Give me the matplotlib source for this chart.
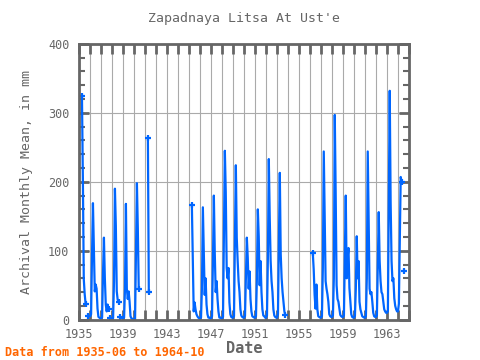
import numpy as np
import matplotlib.pyplot as plt
from matplotlib.ticker import MultipleLocator

nan = np.nan

# monthly values (Jan..Dec), nan = no data
years = list(range(1935, 1965))
monthly = {
    1935: [nan, nan, nan, nan, nan, 325, 205, 59, 37, 23, nan, nan],
    1936: [6, 5, 5, 8, 95, 169, 104, 41, 51, 45, 16, 4],
    1937: [3, 2, 2, 3, 68, 119, 60, 22, 12, 22, 16, nan],
    1938: [3, 2, 2, 2, 56, 190, 136, 41, 29, 26, nan, 4],
    1939: [3, 2, 2, 3, 45, 168, 45, 30, 41, 26, 5, 2],
    1940: [1, 1, 1, 1, 97, 198, 132, 45, nan, nan, nan, nan],
    1941: [nan, nan, nan, nan, nan, 263, 40, nan, nan, nan, nan, nan],
    1942: [nan] * 12,
    1943: [nan] * 12,
    1944: [nan] * 12,
    1945: [nan, nan, nan, nan, nan, 166, 92, 12, 25, 15, 8, 5],
    1946: [3, 2, 2, 3, 46, 163, 100, 36, 60, 22, 8, 3],
    1947: [3, 2, 2, 5, 85, 180, 97, 40, 56, 30, 12, 3],
    1948: [3, 2, 2, 4, 120, 245, 185, 75, 60, 75, 25, 8],
    1949: [4, 3, 3, 5, 119, 224, 119, 85, 56, 40, 15, 6],
    1950: [4, 3, 3, 5, 60, 119, 90, 45, 70, 30, 12, 5],
    1951: [4, 3, 3, 5, 60, 160, 121, 50, 85, 40, 15, 6],
    1952: [5, 3, 3, 6, 90, 233, 148, 85, 56, 40, 15, 6],
    1953: [4, 3, 3, 8, 110, 213, 95, 60, 40, 26, 12, 7],
    1954: [nan] * 12,
    1955: [nan] * 12,
    1956: [nan, nan, nan, nan, nan, 97, 73, 36, 16, 51, 15, 5],
    1957: [4, 3, 3, 5, 75, 244, 154, 56, 45, 37, 26, 8],
    1958: [5, 4, 4, 6, 60, 297, 183, 50, 30, 26, 16, 7],
    1959: [5, 4, 4, 6, 95, 180, 60, 90, 104, 46, 26, 8],
    1960: [4, 3, 3, 5, 45, 121, 60, 85, 26, 15, 10, 5],
    1961: [4, 3, 3, 5, 60, 244, 143, 45, 37, 40, 26, 10],
    1962: [5, 4, 4, 6, 85, 156, 85, 56, 40, 37, 26, 15],
    1963: [12, 10, 10, 12, 170, 332, 170, 85, 56, 60, 31, 20],
    1964: [15, 12, 12, 23, 110, 207, 200, nan, nan, 70, nan, nan],
}
tick_years = list(range(1935, 1965, 4))

dates = []
values = []
for y in years:
    for m, v in enumerate(monthly[y]):
        dates.append(y + (m - 2) / 12.0)
        values.append(v)
dates = np.array(dates)
values = np.array(values, dtype=float)

# points at the ends of a run get a marker
ok = ~np.isnan(values)
prev_ok = np.r_[False, ok[:-1]]
next_ok = np.r_[ok[1:], False]
ends = ok & (~prev_ok | ~next_ok)

fig = plt.figure(figsize=(4.8, 3.6), dpi=100)
ax = fig.add_axes([0.165, 0.112, 0.687, 0.766])

blue = '#0066ff'
ax.plot(dates, values, color=blue, lw=1.6)
ax.plot(dates[ends], values[ends], '+', color=blue, ms=4, mew=1.6)

ax.set_xlim(1935, 1965)
ax.set_ylim(0, 400)
ax.set_xticks(tick_years)
ax.xaxis.set_minor_locator(MultipleLocator(1))
ax.yaxis.set_major_locator(MultipleLocator(100))
ax.yaxis.set_minor_locator(MultipleLocator(20))

ax.grid(True, which='both', axis='x', color='#aaaaaa', lw=0.8)
ax.grid(True, which='major', axis='y', color='#aaaaaa', lw=0.8)
ax.set_axisbelow(True)

gray = '#666666'
for s in ax.spines.values():
    s.set_color(gray)
    s.set_linewidth(2)
ax.tick_params(which='both', direction='in', top=True, right=True, colors=gray,
               labelsize=8.5, width=2)
ax.tick_params(which='major', length=7)
ax.tick_params(which='minor', length=4, width=1.5)
ax.tick_params(axis='x', which='minor', length=7, width=2)
ax.tick_params(axis='x', which='major', pad=6)
ax.tick_params(axis='y', which='major', pad=7)
for lab in ax.get_xticklabels() + ax.get_yticklabels():
    lab.set_family('DejaVu Sans Mono')
    lab.set_color(gray)

ax.set_title("Zapadnaya Litsa At Ust'e", family='DejaVu Sans Mono', color=gray,
             fontsize=9.5, pad=16)
ax.set_ylabel('Archival Monthly Mean, in mm', family='DejaVu Sans Mono',
              color=gray, fontsize=9.5, labelpad=11)
ax.set_xlabel('Date', family='DejaVu Sans Mono', color=gray, fontsize=11,
              fontweight='bold', labelpad=0)
fig.text(0.01, 0.012, 'Data from 1935-06 to 1964-10', family='DejaVu Sans Mono',
         color='#ff6600', fontsize=8.5, fontweight='bold')

fig.savefig('out.png', dpi=100)
